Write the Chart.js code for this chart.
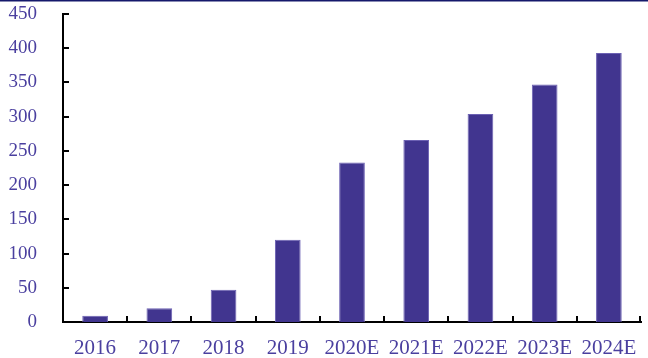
<!DOCTYPE html>
<html lang="zh">
<head>
    <meta charset="UTF-8">
    <title>市场规模</title>
    <script src="https://cdn.jsdelivr.net/npm/chart.js@4.4.1/dist/chart.umd.min.js"></script>
    <style>
        html, body { margin: 0; padding: 0; background: #ffffff; }
        #wrap { width: 648px; height: 358px; position: relative; }
    </style>
</head>
<body>
    <div id="wrap"><canvas id="chart"></canvas></div>
    <script>
        // 年份与数值
        const categories = ["2016", "2017", "2018", "2019", "2020E", "2021E", "2022E", "2023E", "2024E"];
        const values = [9, 20, 47, 120, 233, 266, 304, 347, 393];
        const yMin = 0, yMax = 450, yStep = 50;

        const labelColor = "#4a3f9f";

        // 顶部细线 + 坐标轴向内的刻度线
        const axisTicks = {
            id: "axisTicks",
            afterDraw(chart) {
                const ctx = chart.ctx;
                const x = chart.scales.x, y = chart.scales.y;
                const area = chart.chartArea;
                ctx.save();
                ctx.strokeStyle = "#15196b";
                ctx.lineWidth = 1.5;
                ctx.beginPath();
                ctx.moveTo(0, 0.75);
                ctx.lineTo(chart.width, 0.75);
                ctx.stroke();

                ctx.strokeStyle = "#000000";
                ctx.lineWidth = 2;
                ctx.beginPath();
                for (let v = yMin; v <= yMax; v += yStep) {
                    const py = Math.round(y.getPixelForValue(v));
                    ctx.moveTo(area.left, py);
                    ctx.lineTo(area.left + 6, py);
                }
                const n = categories.length;
                for (let i = 1; i <= n; i++) {
                    const px = i < n
                        ? (x.getPixelForValue(i - 1) + x.getPixelForValue(i)) / 2
                        : area.right - 1;
                    ctx.moveTo(Math.round(px), area.bottom);
                    ctx.lineTo(Math.round(px), area.bottom - 6);
                }
                ctx.stroke();
                ctx.restore();
            }
        };

        let ctx = document.getElementById("chart").getContext("2d");

        let chart = new Chart(ctx, {
            type: "bar",
            data: {
                labels: categories,
                datasets: [
                    {
                        data: values,
                        backgroundColor: "#41358f",
                        borderColor: "#6c61b3",
                        borderWidth: 1,
                        barPercentage: 0.4,
                        categoryPercentage: 1.0
                    }
                ]
            },
            options: {
                responsive: true,
                maintainAspectRatio: false,
                animation: false,
                layout: {
                    padding: { left: 0, right: 7, top: 14, bottom: 0 }
                },
                plugins: {
                    legend: { display: false },
                    tooltip: { enabled: false }
                },
                scales: {
                    x: {
                        grid: { display: false },
                        border: { display: true, color: "#000000", width: 2 },
                        ticks: {
                            color: labelColor,
                            padding: 6,
                            maxRotation: 0,
                            font: { family: "Liberation Serif", size: 21 }
                        },
                        afterFit(scale) {
                            scale.height = 36;
                            scale.paddingLeft = 0;
                            scale.paddingRight = 0;
                        }
                    },
                    y: {
                        min: yMin,
                        max: yMax,
                        grid: { display: false },
                        border: { display: true, color: "#000000", width: 2 },
                        ticks: {
                            stepSize: yStep,
                            color: labelColor,
                            padding: 18,
                            font: { family: "Liberation Serif", size: 19 }
                        },
                        afterFit(scale) {
                            scale.width = 63;
                            scale.paddingTop = 0;
                            scale.paddingBottom = 0;
                        }
                    }
                }
            },
            plugins: [axisTicks]
        });
    </script>
</body>
</html>
